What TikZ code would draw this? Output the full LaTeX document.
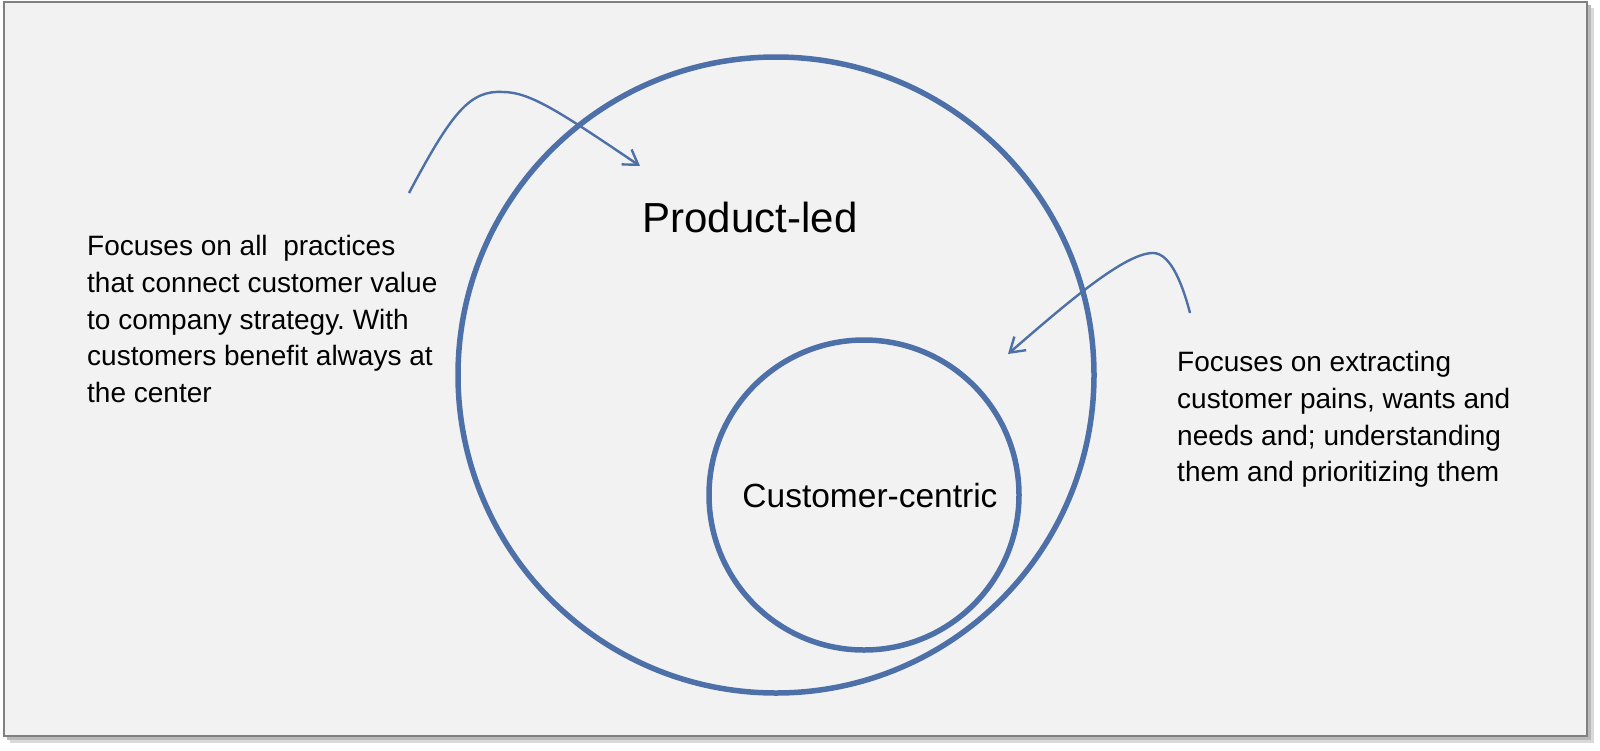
\documentclass[tikz,border=0pt]{standalone}
\usepackage{fontspec}
\setmainfont{Liberation Sans}
\usetikzlibrary{arrows.meta}
\definecolor{ringblue}{HTML}{4E70A8}
\definecolor{panel}{HTML}{F2F2F2}
\frenchspacing

\begin{document}
\begin{tikzpicture}[x=1pt,y=-1pt,
  ring/.style={draw=ringblue, line width=5.5pt, circle, inner sep=0pt},
  note/.style={align=left, inner sep=0pt, anchor=north west, font=\fontsize{28}{36.8}\selectfont},
  pointer/.style={draw=ringblue, line width=2.4pt, -{Straight Barb[length=14pt,width=18pt]}}]
\useasboundingbox (0,0) rectangle (1600,750);
% panel with shadow
\fill[gray!30] (10,8) rectangle (1594,743);
\fill[gray!55] (7,5) rectangle (1591,740);
\filldraw[fill=panel, draw=gray, line width=2pt] (4,2) rectangle (1587,736);
% circles
\node[ring, minimum size=636pt] (a) at (776,375) {};
\node[ring, minimum size=310pt] (b) at (864,495) {};
\node[anchor=base, inner sep=0pt, font=\fontsize{42}{50}\selectfont] (la) at (750,232) {Product-led};
\node[anchor=base, inner sep=0pt, font=\fontsize{33.5}{40}\selectfont] (lb) at (870,507) {Customer-centric};
% notes
\node[note] (n1) at (87,235) {Focuses on all~ practices\\that connect customer value\\to company strategy. With\\customers benefit always at\\the center};
\node[note] (n2) at (1177,351) {Focuses on extracting\\customer pains, wants and\\needs and; understanding\\them and prioritizing them};
% arrows
\coordinate (s1) at (409,193);
\coordinate (p1) at (503,92);
\coordinate (t1) at (640,166);
\coordinate (s2) at (1190,313);
\coordinate (p2) at (1153,253);
\coordinate (t2) at (1008,354);
\draw[pointer] (s1) .. controls (452,112) and (470,90) .. (p1) .. controls (530,92) and (560,112) .. (t1);
\draw[pointer] (s2) .. controls (1184,290) and (1172,253) .. (p2) .. controls (1125,253) and (1068,302) .. (t2);
\end{tikzpicture}
\end{document}
